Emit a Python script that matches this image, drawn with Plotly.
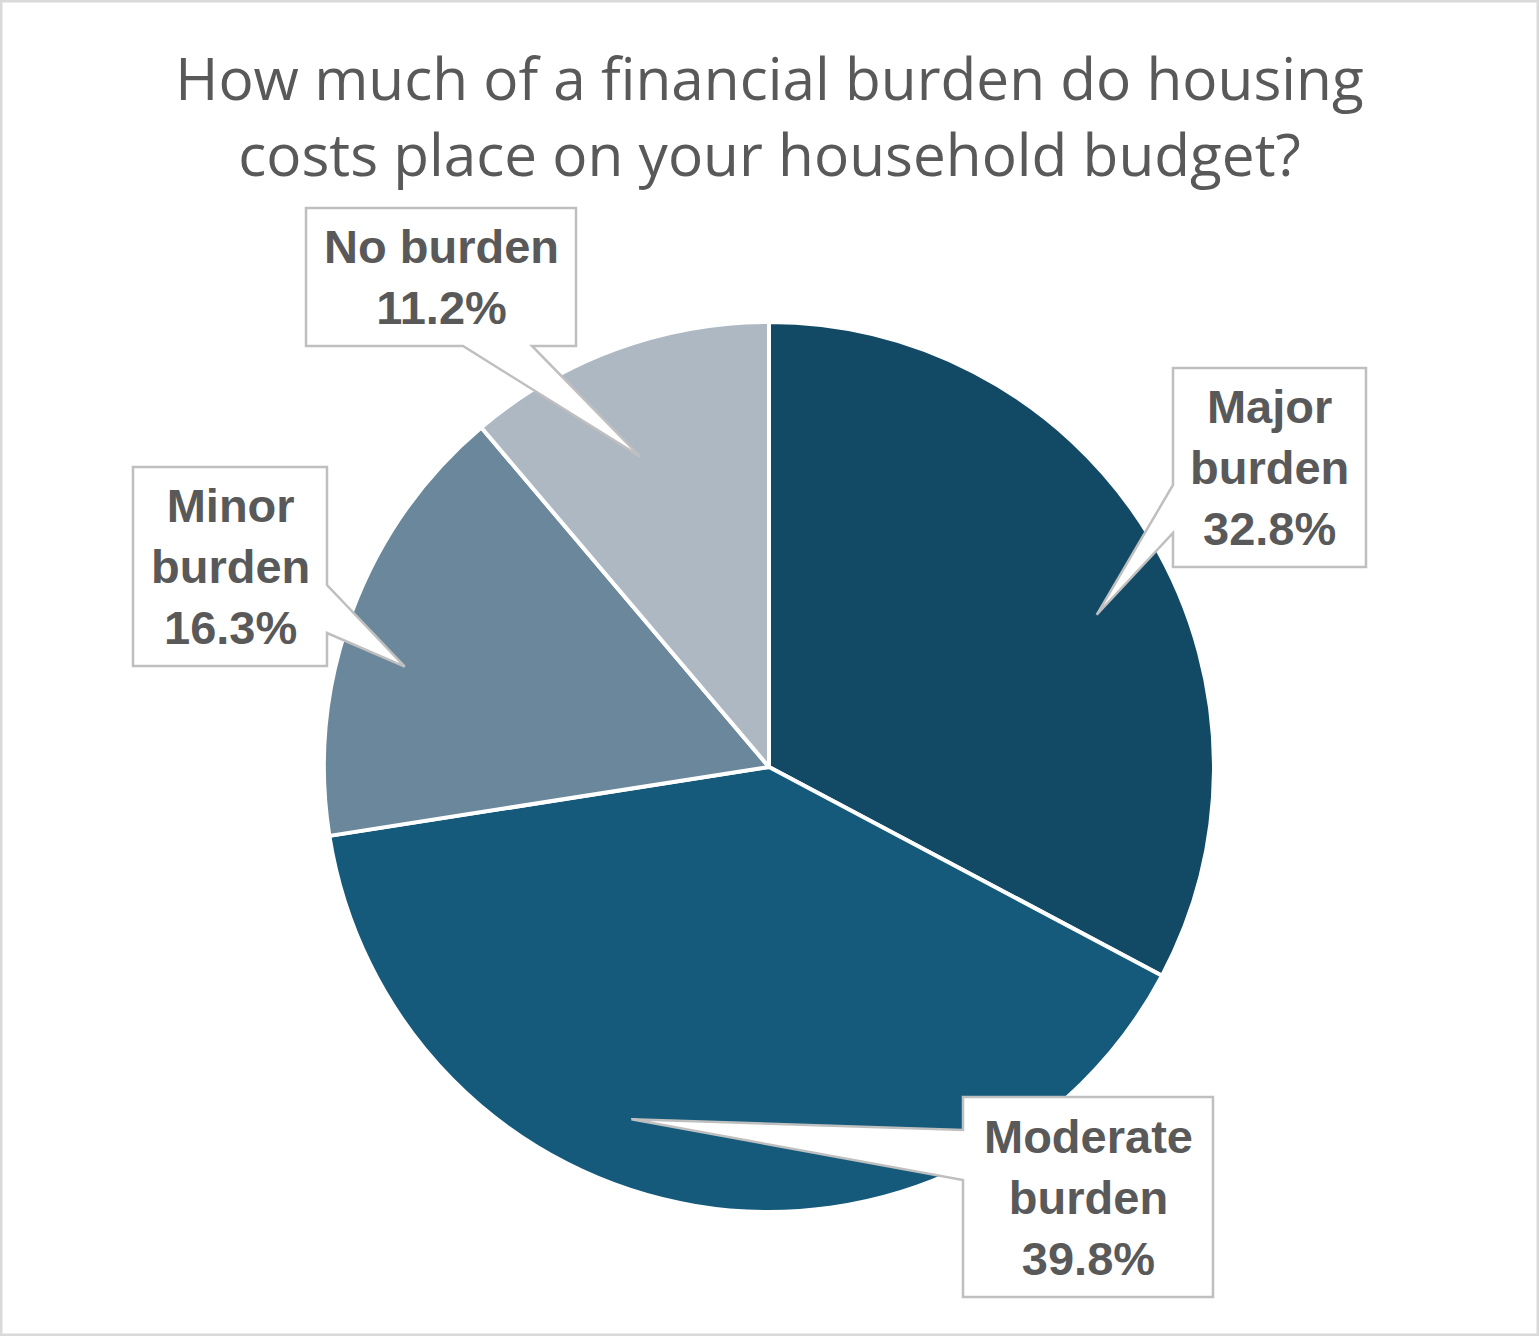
import math
import plotly.graph_objects as go

# ---- data ----
categories = ["Major burden", "Moderate burden", "Minor burden", "No burden"]
values = [32.8, 39.8, 16.3, 11.2]
colors = ["#124a66", "#155a7a", "#6a879b", "#adb8c3"]
title_text = "How much of a financial burden do housing<br>costs place on your household budget?"

# ---- layout constants (pixels) ----
W, H = 1539, 1336
CX, CY, R = 769, 767, 445

# per-label callout layout: box (x0, y0, x1, y1), side the wedge leaves from,
# wedge base (two coordinates along that side), tip angle shift & radial fraction
callouts = {
    "Major burden":    dict(box=(1173, 368, 1366, 567), side="left",   base=(485, 533),  dang=6.1,   rf=0.812),
    "Moderate burden": dict(box=(963, 1097, 1213, 1297), side="left",  base=(1130, 1180), dang=11.8, rf=0.850),
    "Minor burden":    dict(box=(133, 467, 327, 666), side="right",    base=(585, 633),  dang=-5.0,  rf=0.849),
    "No burden":       dict(box=(306, 208, 576, 346), side="bottom",   base=(532, 463),  dang=-2.4,  rf=0.755),
}

def px(x):
    return x / W

def py(y):
    return 1 - y / H

fig = go.Figure()
fig.add_trace(go.Pie(
    labels=categories,
    values=values,
    sort=False,
    direction="clockwise",
    rotation=0,
    marker=dict(colors=colors, line=dict(color="white", width=4)),
    textinfo="none",
    hoverinfo="label+percent",
    showlegend=False,
    domain=dict(x=[px(CX - R), px(CX + R)], y=[py(CY + R), py(CY - R)]),
))

shapes = []
annotations = []
total = sum(values)
cum = 0.0
for cat, v in zip(categories, values):
    mid = (cum + v / 2) / total * 360.0
    cum += v
    c = callouts[cat]
    ang = math.radians(mid + c["dang"])
    tx = CX + c["rf"] * R * math.sin(ang)
    ty = CY - c["rf"] * R * math.cos(ang)
    x0, y0, x1, y1 = c["box"]
    a, b = c["base"]
    tip = (tx, ty)
    if c["side"] == "left":
        pts = [(x0, y0), (x1, y0), (x1, y1), (x0, y1), (x0, b), tip, (x0, a)]
    elif c["side"] == "right":
        pts = [(x0, y0), (x1, y0), (x1, a), tip, (x1, b), (x1, y1), (x0, y1)]
    else:  # bottom
        pts = [(x0, y0), (x1, y0), (x1, y1), (a, y1), tip, (b, y1), (x0, y1)]
    path = "M " + " L ".join(f"{px(x):.5f},{py(y):.5f}" for x, y in pts) + " Z"
    shapes.append(dict(type="path", xref="paper", yref="paper", path=path,
                       fillcolor="white", line=dict(color="#bfbfbf", width=2.5), layer="above"))
    pct = f"{v / total * 100:.1f}%"
    label = cat.replace(" ", "<br>") if cat != "No burden" else cat
    annotations.append(dict(
        x=px((x0 + x1) / 2), y=py((y0 + y1) / 2), xref="paper", yref="paper",
        text=f"<b>{label}<br>{pct}</b>", showarrow=False, align="center",
        xanchor="center", yanchor="middle",
        font=dict(family="Liberation Sans, Arial, sans-serif", size=47, color="#595959"),
    ))

# outer frame
shapes.append(dict(type="rect", xref="paper", yref="paper", x0=0, y0=0, x1=1, y1=1,
                   line=dict(color="#d9d9d9", width=5), layer="above"))

fig.update_layout(
    width=W, height=H,
    margin=dict(l=0, r=0, t=0, b=0),
    paper_bgcolor="white", plot_bgcolor="white",
    title=dict(text=title_text, x=0.5, xanchor="center", y=py(100), yanchor="middle",
               font=dict(family="Open Sans, sans-serif", size=58.5, color="#595959")),
    shapes=shapes,
    annotations=annotations,
)

fig.write_html("out.html",
               config={"displayModeBar": False},
               post_script="document.body.style.margin='0';document.body.style.overflow='hidden';")
